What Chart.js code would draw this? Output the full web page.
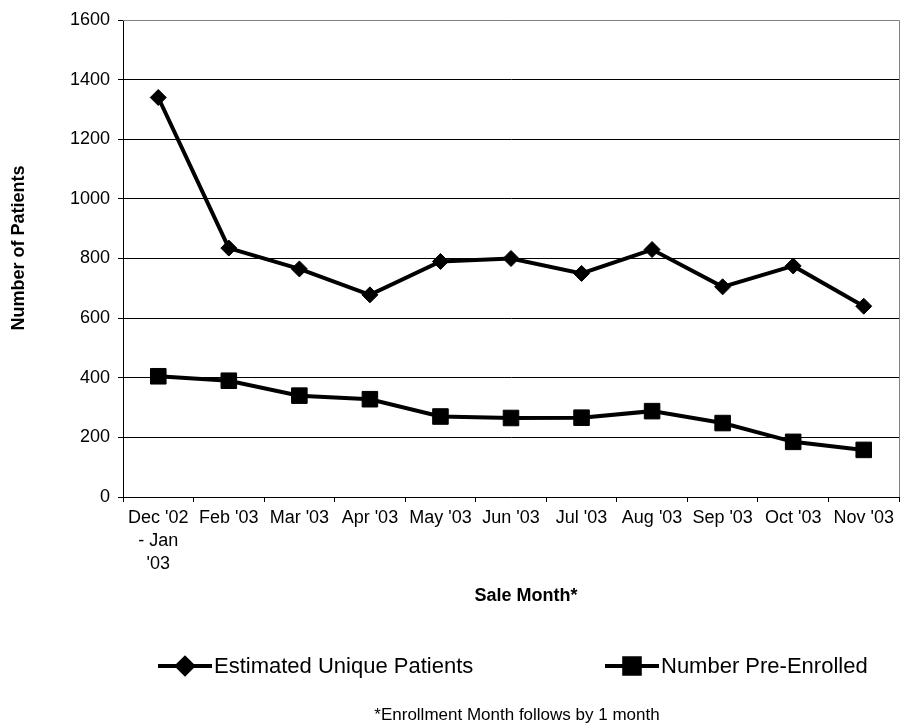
<!DOCTYPE html>
<html>
<head>
<meta charset="utf-8">
<script src="https://cdn.jsdelivr.net/npm/chart.js"></script>
<style>
  html, body { margin: 0; padding: 0; background: #fff; }
  #wrap { position: relative; width: 900px; height: 727px; }
</style>
</head>
<body>
<div id="wrap"><canvas id="chart" width="900" height="727"></canvas></div>
<script>
const saleMonths = [
  ["Dec '02", '- Jan', "'03"], "Feb '03", "Mar '03", "Apr '03", "May '03", "Jun '03",
  "Jul '03", "Aug '03", "Sep '03", "Oct '03", "Nov '03"
];
const estimatedUnique = [1340, 835, 765, 678, 790, 800, 750, 830, 705, 775, 640];
const preEnrolled = [405, 390, 340, 328, 270, 265, 266, 288, 248, 185, 158];
const xTitle = 'Sale Month*';
const yTitle = 'Number of Patients';
const footnote = '*Enrollment Month follows by 1 month';

const FONT = 'Arial, "Liberation Sans", sans-serif';

// axis titles, legend (line + marker) and footnote, placed like the spreadsheet export
const extras = {
  id: 'extras',
  afterDraw(chart) {
    const ctx = chart.ctx;
    const a = chart.chartArea;
    ctx.save();

    // grey frame on top and right of the plot
    ctx.strokeStyle = '#808080';
    ctx.lineWidth = 1;
    ctx.beginPath();
    ctx.moveTo(a.left, a.top + 0.5);
    ctx.lineTo(a.right + 0.5, a.top + 0.5);
    ctx.lineTo(a.right + 0.5, a.bottom);
    ctx.stroke();

    ctx.fillStyle = '#000';
    ctx.font = 'bold 18px ' + FONT;
    ctx.textAlign = 'center';
    ctx.textBaseline = 'middle';
    ctx.fillText(xTitle, 526, 596);

    ctx.save();
    ctx.translate(19, 248);
    ctx.rotate(-Math.PI / 2);
    ctx.fillText(yTitle, 0, 0);
    ctx.restore();

    const items = [
      { ds: chart.data.datasets[0], x: 158 },
      { ds: chart.data.datasets[1], x: 605 },
    ];
    const y = 666;
    for (const it of items) {
      ctx.strokeStyle = '#000';
      ctx.lineWidth = 4;
      ctx.beginPath();
      ctx.moveTo(it.x, y);
      ctx.lineTo(it.x + 54, y);
      ctx.stroke();
      Chart.helpers.drawPoint(ctx, {
        pointStyle: it.ds.pointStyle,
        radius: it.ds.pointRadius,
        borderWidth: 1,
        rotation: 0,
      }, it.x + 27, y);
      ctx.fillStyle = '#000';
      ctx.fill();
      ctx.font = '22px ' + FONT;
      ctx.textBaseline = 'middle';
      ctx.textAlign = 'left';
      ctx.fillText(it.ds.label, it.x + 56, y + 1);
    }

    ctx.font = '17px ' + FONT;
    ctx.textAlign = 'center';
    ctx.textBaseline = 'middle';
    ctx.fillText(footnote, 517, 715);
    ctx.restore();
  }
};

new Chart(document.getElementById('chart'), {
  type: 'line',
  data: {
    labels: saleMonths,
    datasets: [
      {
        label: 'Estimated Unique Patients',
        data: estimatedUnique,
        borderColor: '#000',
        backgroundColor: '#000',
        borderWidth: 4,
        pointStyle: 'rectRot',
        pointRadius: 8,
        pointBorderWidth: 1,
        tension: 0,
      },
      {
        label: 'Number Pre-Enrolled',
        data: preEnrolled,
        borderColor: '#000',
        backgroundColor: '#000',
        borderWidth: 4,
        pointStyle: 'rect',
        pointRadius: 11,
        pointBorderWidth: 1,
        tension: 0,
      }
    ]
  },
  options: {
    responsive: false,
    animation: false,
    layout: { autoPadding: false, padding: { top: 20, right: 1, bottom: 0, left: 0 } },
    plugins: {
      legend: { display: false },
      tooltip: { enabled: false },
    },
    scales: {
      x: {
        offset: true,
        afterFit(scale) {
          scale.height = 230;
          scale.paddingLeft = 0;
          scale.paddingRight = 0;
        },
        grid: {
          offset: true,
          drawOnChartArea: false,
          color: '#000',
          tickLength: 5,
        },
        border: { color: '#000', width: 1 },
        ticks: {
          color: '#000',
          font: { family: FONT, size: 18, lineHeight: 1.3 },
          padding: 4,
          autoSkip: false,
          maxRotation: 0,
        },
      },
      y: {
        min: 0,
        max: 1600,
        afterFit(scale) { scale.width = 123; },
        grid: {
          color: '#000',
          tickLength: 5,
          lineWidth: 1,
        },
        border: { color: '#000', width: 1 },
        ticks: {
          stepSize: 200,
          color: '#000',
          font: { family: FONT, size: 18 },
          padding: 8,
          callback: (v) => String(v),
        },
      },
    },
  },
  plugins: [extras],
});
</script>
</body>
</html>
